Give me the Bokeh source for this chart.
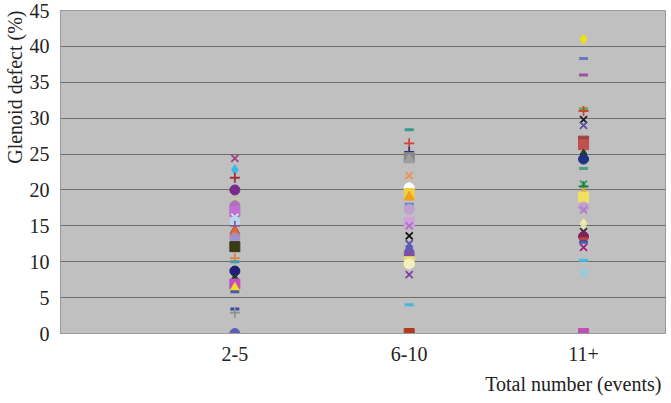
from bokeh.plotting import figure
from bokeh.models import ColumnDataSource, FixedTicker, Range1d, Title
from bokeh.embed import file_html
from bokeh.resources import INLINE

categories = ["2-5", "6-10", "11+"]

# Glenoid defect (%) per patient, by total number of events
g1_vals = [24.4, 22.8, 21.7, 20.0, 18.3, 17.8, 17.4, 17.0, 16.2, 15.6, 15.0, 14.3, 14.0,
           13.3, 12.1, 10.5, 10.0, 8.7, 7.6, 6.9, 6.3, 5.8, 3.4, 2.9, 0.0]
g2_vals = [28.4, 26.5, 25.3, 24.5, 24.2, 22.0, 20.3, 19.5, 19.0, 18.0, 17.3, 15.5, 15.0,
           13.6, 12.5, 11.8, 11.0, 10.0, 9.7, 8.2, 4.0, 0.0]
g3_vals = [41.0, 38.3, 36.0, 31.3, 31.0, 29.8, 29.0, 26.8, 26.3, 25.0, 24.3, 23.0, 20.8,
           20.5, 19.5, 19.0, 17.6, 17.2, 15.3, 15.0, 14.2, 13.5, 13.2, 12.7, 12.0, 10.2, 8.5, 0.0]

# marker styles (per point)
g1_markers = ["x", "diamond", "cross", "circle", "x", "circle", "dash", "square", "x", "circle",
              "cross", "triangle", "triangle", "circle", "square", "cross", "dash", "circle",
              "diamond", "square", "triangle", "dash", "dash", "cross", "circle"]
g1_colors = ["#A0408A", "#3EB8E8", "#A0303A", "#7B2A8C", "#C8D850", "#B070C0", "#6A4C9C",
             "#C070D0", "#D0EAF8", "#B8D8F0", "#8060A0", "#C0504D", "#E07030", "#A090C8",
             "#3A3A18", "#E08040", "#4A9A9A", "#1F1F7A", "#1A3A1A", "#C050C0", "#F0E020",
             "#4A5AAA", "#3050A0", "#909090", "#6060B0"]
g2_markers = ["dash", "cross", "cross", "square", "triangle", "x", "circle", "square", "triangle",
              "dash", "circle", "square", "x", "x", "x", "triangle", "circle", "square", "circle",
              "x", "dash", "square"]
g2_colors = ["#3A9A8A", "#D04040", "#303080", "#8A8A8A", "#A0A0A0", "#F09050", "#FFFFFF",
             "#F0D040", "#F0A020", "#5A8AC0", "#C0A0D0", "#D0A0E0", "#B070C0", "#101010",
             "#6050A0", "#5060C0", "#8050A0", "#E8E070", "#F0F0C0", "#8040A0", "#40B8E0", "#B03A1A"]
g3_markers = ["diamond", "dash", "dash", "dash", "cross", "x", "x", "square", "square", "diamond",
              "circle", "dash", "x", "cross", "triangle", "square", "circle", "x", "diamond", "x",
              "x", "circle", "dash", "dash", "x", "dash", "x", "square"]
g3_colors = ["#F0E010", "#6A7AC0", "#A050A0", "#60B040", "#D04040", "#202020", "#6050A0",
             "#A04040", "#C05050", "#204020", "#203080", "#50A080", "#30A060", "#208040",
             "#F0A030", "#F0E060", "#C0A0D0", "#B080C0", "#F0F0A0", "#E0E0B0", "#303030",
             "#802060", "#C04040", "#4060B0", "#A02080", "#40C0E0", "#80D0F0", "#C050B0"]

groups = [(g1_vals, g1_markers, g1_colors), (g2_vals, g2_markers, g2_colors),
          (g3_vals, g3_markers, g3_colors)]

xs, ys, ms, cs, lws, szs = [], [], [], [], [], []
for i, (vals, mk, col) in enumerate(groups):
    for v, m, c in zip(vals, mk, col):
        xs.append(i + 1)
        ys.append(v)
        ms.append(m)
        cs.append(c)
        lws.append(3.0 if m == "dash" else (1.8 if m in ("x", "cross") else 1.0))
        szs.append(9 if m == "dash" else 10)

src = ColumnDataSource(dict(x=xs, y=ys, marker=ms, color=cs, lw=lws, sz=szs))

FONT = "Liberation Serif"

p = figure(width=671, height=403, output_backend="svg", toolbar_location=None,
           x_range=Range1d(0, 3.47), y_range=Range1d(0, 45),
           min_border_left=60, min_border_right=6, min_border_top=10, min_border_bottom=70)
p.background_fill_color = "#C0C0C0"
p.border_fill_color = "white"
p.outline_line_color = "#9A9A9A"

p.scatter(x="x", y="y", source=src, marker="marker", size="sz",
          fill_color="color", line_color="color", line_width="lw")

p.xgrid.visible = False
p.ygrid.grid_line_color = "#6E6E6E"
p.ygrid.grid_line_width = 1

p.yaxis.ticker = FixedTicker(ticks=list(range(0, 50, 5)))
p.xaxis.ticker = FixedTicker(ticks=[1, 2, 3])
p.xaxis.major_label_overrides = {i + 1: c for i, c in enumerate(categories)}

for ax in (p.xaxis[0], p.yaxis[0]):
    ax.major_label_text_font = FONT
    ax.major_label_text_font_size = "20px"
    ax.major_label_text_color = "#222222"
    ax.major_tick_out = 0
    ax.major_tick_in = 0
    ax.minor_tick_out = 0
    ax.minor_tick_in = 0
    ax.axis_line_color = "#9A9A9A"
p.yaxis.major_label_standoff = 11
p.xaxis.major_label_standoff = 13

xt = Title(text="Total number (events)", align="right", text_font=FONT,
           text_font_size="20px", text_font_style="normal", text_color="#222222",
           standoff=14, offset=4)
p.add_layout(xt, "below")
yt = Title(text="Glenoid defect (%)", align="right", text_font=FONT,
           text_font_size="20px", text_font_style="normal", text_color="#222222",
           standoff=2)
p.add_layout(yt, "left")

open("out.html", "w").write(file_html(p, INLINE))
